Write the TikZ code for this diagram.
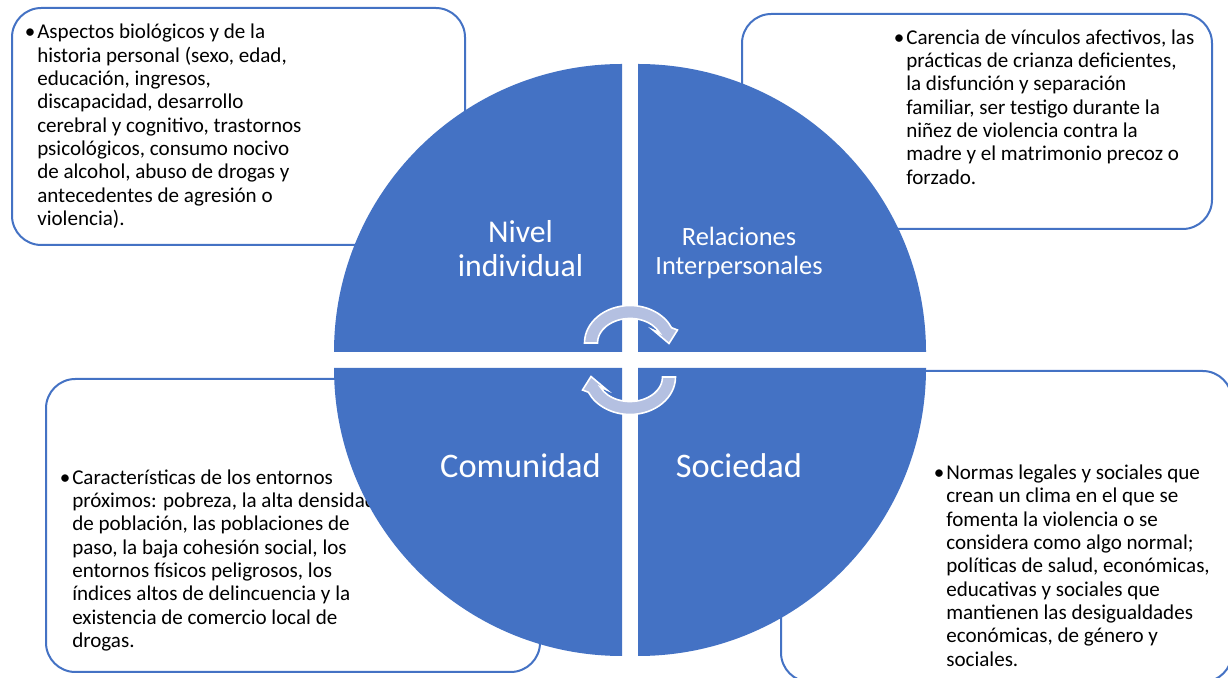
\documentclass[tikz,border=0pt]{standalone}
\usepackage{fontspec}
\setmainfont{Carlito}
\usetikzlibrary{calc}
\definecolor{ecoblue}{HTML}{4472C4}
\definecolor{ecoarrow}{HTML}{B4C0E1}

\begin{document}
\begin{tikzpicture}[x=0.75pt,y=0.75pt,
        infobox/.style={draw=ecoblue,line width=1.5pt,fill=white,rounded corners=22pt},
        infotext/.style={anchor=north west,inner sep=0pt,align=left,font=\fontsize{15.8}{17.5}\selectfont},
        infobullet/.style={anchor=north east,inner sep=0pt,xshift=-1pt,font=\fontsize{15.8}{17.5}\selectfont},
        quadrant/.style={fill=ecoblue},
        levelbig/.style={text=white,inner sep=0pt,align=center,font=\fontsize{25.8}{27}\selectfont},
        cyclearrow/.style={fill=ecoarrow,draw=white,line width=1.2pt,line join=miter}]
        \useasboundingbox (0,0) rectangle (1228,678);
        % the four text boxes sit behind the circle
        \draw[infobox] (12,433) rectangle (465,670);
        \node[infotext] (indivtxt) at (37,655.8) {\strut Aspectos biológicos y de la\\historia personal (sexo, edad,\\educación, ingresos,\\discapacidad, desarrollo\\cerebral y cognitivo, trastornos\\psicológicos, consumo nocivo\\de alcohol, abuso de drogas y\\antecedentes de agresión o\\violencia).};
        \node[infobullet] (indivdot) at (indivtxt.north west) {\strut\textbullet};
        \draw[infobox] (742,449) rectangle (1212,664);
        \node[infotext] (relatxt) at (906,650.3) {\strut Carencia de vínculos afectivos, las\\prácticas de crianza deficientes,\\la disfunción y separación\\familiar, ser testigo durante la\\niñez de violencia contra la\\madre y el matrimonio precoz o\\forzado.};
        \node[infobullet] (reladot) at (relatxt.north west) {\strut\textbullet};
        \draw[infobox] (46,6) rectangle (540,299);
        \node[infotext] (comutxt) at (72,210.3) {\strut Características de los entornos\\próximos: pobreza, la alta densidad\\de población, las poblaciones de\\paso, la baja cohesión social, los\\entornos físicos peligrosos, los\\índices altos de delincuencia y la\\existencia de comercio local de\\drogas.};
        \node[infobullet] (comudot) at (comutxt.north west) {\strut\textbullet};
        \draw[infobox] (781,-4) rectangle (1232,307);
        \node[infotext] (soctxt) at (946,215) {\strut Normas legales y sociales que\\crean un clima en el que se\\fomenta la violencia o se\\considera como algo normal;\\políticas de salud, económicas,\\educativas y sociales que\\mantienen las desigualdades\\económicas, de género y\\sociales.};
        \node[infobullet] (socdot) at (soctxt.north west) {\strut\textbullet};
        % circle in four quarters
        \fill[quadrant] (622,326) -- (334,326) arc[start angle=180,end angle=90,radius=288] -- cycle;
        \fill[quadrant] (638,326) -- (638,614) arc[start angle=90,end angle=0,radius=288] -- cycle;
        \fill[quadrant] (622,310) -- (622,22) arc[start angle=270,end angle=180,radius=288] -- cycle;
        \fill[quadrant] (638,310) -- (926,310) arc[start angle=0,end angle=-90,radius=288] -- cycle;
        \node[levelbig,font=\fontsize{23.8}{25.5}\selectfont] (indiv) at (520.5,429) {Nivel\\individual};
        \node[levelbig,font=\fontsize{19.8}{21.5}\selectfont] (rela) at (739,425) {Relaciones\\Interpersonales};
        \node[levelbig,anchor=base] (comu) at (520.5,200) {Comunidad};
        \node[levelbig,anchor=base] (soc) at (739,200) {Sociedad};
        % circular arrows in the middle
        \draw[cyclearrow] (584.5,335) arc[start angle=180,end angle=24,x radius=45.5,y radius=37.5] -- (677.5,348) -- (669,334.5) -- (653,348) -- (659.7,345) arc[start angle=24,end angle=180,x radius=32.5,y radius=24.5] -- cycle;
        \draw[cyclearrow,rotate around={180:(630,318)}] (584.5,335) arc[start angle=180,end angle=24,x radius=45.5,y radius=37.5] -- (677.5,348) -- (669,334.5) -- (653,348) -- (659.7,345) arc[start angle=24,end angle=180,x radius=32.5,y radius=24.5] -- cycle;
\end{tikzpicture}
\end{document}
